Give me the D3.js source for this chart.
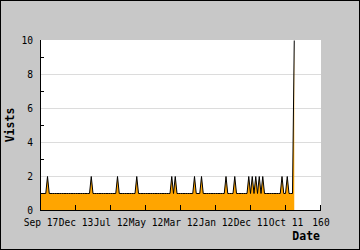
<!DOCTYPE html>
<html><head><meta charset="utf-8">
<script src="https://cdn.jsdelivr.net/npm/d3@7/dist/d3.min.js"></script>
<style>html,body{margin:0;padding:0;background:#fff}svg{display:block}</style>
</head><body><div id="chart"></div>
<script>
// Data: daily visit counts (index = point number)
const pointCount = 146;
const spikeIndices = [4, 29, 44, 55, 75, 77, 88, 92, 106, 111, 119, 121, 123, 125, 127, 138, 141];
const spikeValue = 2;
const baseValue = 1;
const lastValue = 10;
const visits = [];
for (let i = 0; i < pointCount; i++) {
  if (i === pointCount - 1) visits.push(lastValue);
  else if (spikeIndices.includes(i)) visits.push(spikeValue);
  else visits.push(baseValue);
}
const xTickLabels = ["Sep 17", "Dec 13", "Jul 12", "May 12", "Mar 12", "Jan 12", "Dec 11", "Oct 11", "160"];
const xTickValues = [0, 20, 40, 60, 80, 100, 120, 140, 160];
const yMajorTicks = [0, 2, 4, 6, 8, 10];
const yMinorTicks = [1, 3, 5, 7, 9];
const xTitle = "Date";
const yTitle = "Vists";

const W = 360, H = 250;
const L = 40, R = 320, T = 40, B = 210;
const svg = d3.select("#chart").append("svg").attr("width", W).attr("height", H);

svg.append("rect").attr("x", 0.5).attr("y", 0.5).attr("width", W - 1).attr("height", H - 1)
  .attr("fill", "#c8c8c8").attr("stroke", "#000").attr("stroke-width", 1);
svg.append("rect").attr("x", L).attr("y", T).attr("width", R - L + 1).attr("height", B - T)
  .attr("fill", "#fff");

const x = d3.scaleLinear().domain([0, 160]).range([L + 0.5, R + 0.5]);
const y = d3.scaleLinear().domain([0, 10]).range([B + 0.5, T + 0.5]);

// grid
svg.append("g").selectAll("line").data(yMajorTicks.filter(v => v > 0 && v < 10)).join("line")
  .attr("x1", L).attr("x2", R + 1).attr("y1", d => y(d)).attr("y2", d => y(d))
  .attr("stroke", "#dcdcdc").attr("stroke-width", 1);

// area + line
const area = d3.area().x((d, i) => x(i)).y0(y(0)).y1(d => y(d));
const line = d3.line().x((d, i) => x(i)).y(d => y(d));
svg.append("path").datum(visits).attr("d", area).attr("fill", "#ffa500");
svg.append("path").datum(visits).attr("d", line).attr("fill", "none")
  .attr("stroke", "#000").attr("stroke-width", 1);

// axes
const font = "'DejaVu Sans Mono', monospace";
const yAxis = d3.axisLeft(y).tickValues(yMajorTicks).tickSize(0).tickPadding(7)
  .tickFormat(d3.format("d"));
const gy = svg.append("g").attr("transform", `translate(${L},0)`).call(yAxis);
gy.select(".domain").remove();
gy.selectAll("text").attr("font-family", font).attr("font-size", "9.6px").attr("fill", "#000");
svg.append("line").attr("x1", L + 0.5).attr("x2", L + 0.5).attr("y1", T).attr("y2", B + 1)
  .attr("stroke", "#000");
svg.append("g").selectAll("line").data(yMinorTicks).join("line")
  .attr("x1", L).attr("x2", L + 4).attr("y1", d => y(d)).attr("y2", d => y(d)).attr("stroke", "#000");

const xAxis = d3.axisBottom(x).tickValues(xTickValues).tickSize(0).tickPadding(9)
  .tickFormat((d, i) => xTickLabels[i]);
const gx = svg.append("g").attr("transform", `translate(0,${B})`).call(xAxis);
gx.select(".domain").remove();
gx.selectAll("text").attr("font-family", font).attr("font-size", "9.6px").attr("fill", "#000");
svg.append("line").attr("x1", L).attr("x2", R + 1).attr("y1", B + 0.5).attr("y2", B + 0.5)
  .attr("stroke", "#000");
svg.append("g").selectAll("line").data(xTickValues).join("line")
  .attr("x1", d => x(d)).attr("x2", d => x(d)).attr("y1", B - 5).attr("y2", B)
  .attr("stroke", "#000");

svg.append("text").attr("x", R).attr("y", 240).attr("text-anchor", "end")
  .attr("font-family", font).attr("font-weight", "bold").attr("font-size", "11.5px").text(xTitle);
svg.append("text").attr("transform", `translate(14,${(T + B) / 2}) rotate(-90)`)
  .attr("text-anchor", "middle").attr("font-family", font).attr("font-weight", "bold")
  .attr("font-size", "11.5px").text(yTitle);
</script></body></html>
